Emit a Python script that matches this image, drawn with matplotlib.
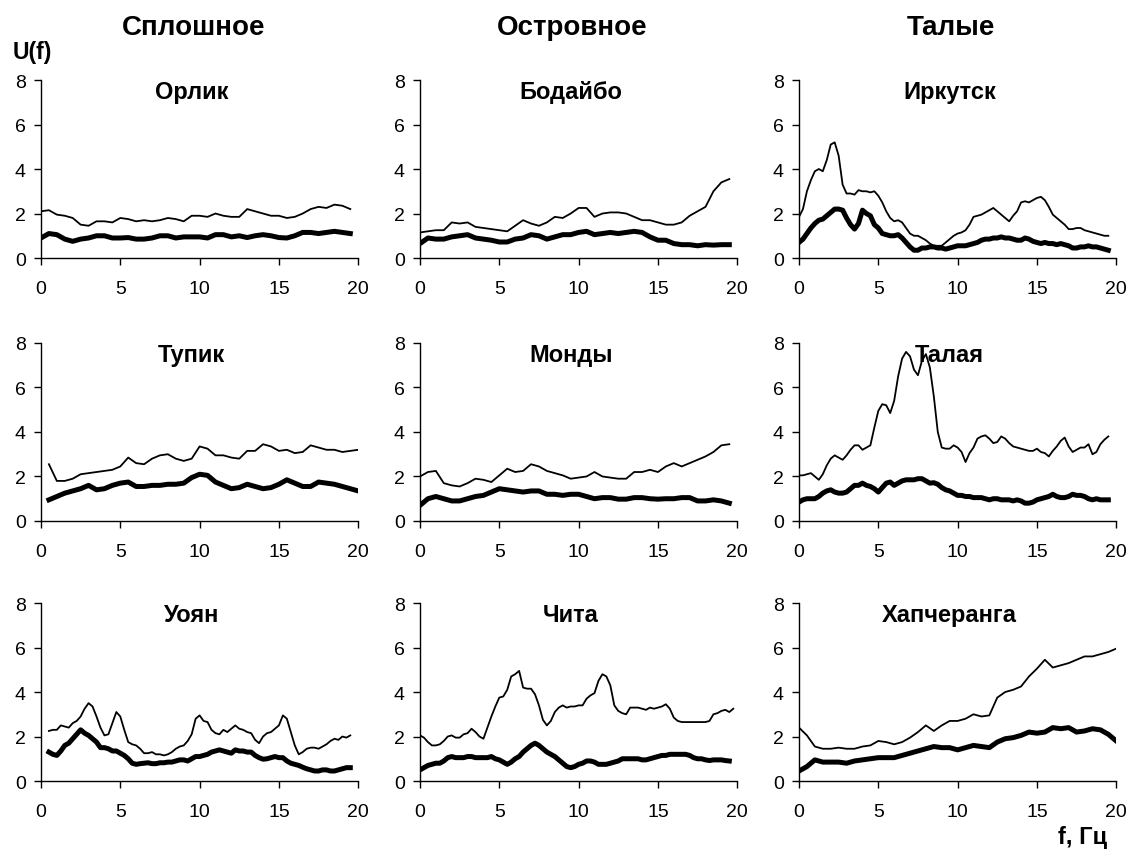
# -*- coding: utf-8 -*-
import matplotlib

matplotlib.use('Agg')
import matplotlib.pyplot as plt
import numpy

plt.rcParams['font.family'] = ['Liberation Sans', 'DejaVu Sans']

# ---- data: U(f), thin = upper curve, thick = lower curve ----

# Орлик (0.5 Hz step)
orlikF = numpy.arange(0, 20, 0.5)
orlikThin = [2.1, 2.15, 1.95, 1.9, 1.8, 1.5, 1.45, 1.65, 1.65, 1.6,
             1.8, 1.75, 1.65, 1.7, 1.65, 1.7, 1.8, 1.75, 1.65, 1.9,
             1.9, 1.85, 2.0, 1.9, 1.85, 1.85, 2.2, 2.1, 2.0, 1.9,
             1.9, 1.8, 1.85, 2.0, 2.2, 2.3, 2.25, 2.4, 2.35, 2.2]
orlikThick = [0.9, 1.1, 1.05, 0.85, 0.75, 0.85, 0.9, 1.0, 1.0, 0.9,
              0.9, 0.92, 0.85, 0.85, 0.9, 1.0, 1.0, 0.9, 0.95, 0.95,
              0.95, 0.9, 1.05, 1.05, 0.95, 1.0, 0.92, 1.0, 1.05, 1.0,
              0.92, 0.9, 1.0, 1.15, 1.15, 1.1, 1.15, 1.2, 1.15, 1.1]

# Бодайбо
bodaiboF = numpy.arange(0, 20, 0.5)
bodaiboThin = [1.15, 1.2, 1.25, 1.25, 1.6, 1.55, 1.6, 1.4, 1.35, 1.3,
               1.25, 1.2, 1.45, 1.7, 1.55, 1.45, 1.6, 1.85, 1.8, 2.0,
               2.25, 2.25, 1.85, 2.0, 2.05, 2.05, 2.0, 1.85, 1.7, 1.7,
               1.6, 1.5, 1.5, 1.6, 1.9, 2.1, 2.3, 3.0, 3.4, 3.55]
bodaiboThick = [0.65, 0.9, 0.85, 0.85, 0.95, 1.0, 1.05, 0.9, 0.85, 0.8,
                0.72, 0.72, 0.85, 0.9, 1.05, 1.0, 0.85, 0.95, 1.05, 1.05,
                1.15, 1.2, 1.05, 1.1, 1.15, 1.1, 1.15, 1.2, 1.15, 0.95,
                0.8, 0.8, 0.65, 0.6, 0.6, 0.55, 0.6, 0.58, 0.6, 0.6]

# Иркутск (0.25 Hz step)
irkutskF = numpy.arange(0, 19.75, 0.25)
irkutskThin = [1.85, 2.2, 3.0, 3.5,
               3.9, 4.0, 3.9, 4.4,
               5.1, 5.2, 4.6, 3.3,
               2.9, 2.9, 2.85, 3.05,
               3.0, 3.0, 2.95, 3.0,
               2.8, 2.5, 2.1, 1.8,
               1.65, 1.7, 1.6, 1.35,
               1.1, 1.0, 1.0, 0.9,
               0.8, 0.65, 0.55, 0.55,
               0.55, 0.7, 0.85, 1.0,
               1.1, 1.15, 1.25, 1.5,
               1.85, 1.9, 1.95, 2.05,
               2.15, 2.25, 2.1, 1.95,
               1.8, 1.65, 1.9, 2.1,
               2.5, 2.55, 2.5, 2.6,
               2.7, 2.75, 2.6, 2.3,
               1.95, 1.8, 1.65, 1.5,
               1.3, 1.3, 1.35, 1.35,
               1.25, 1.2, 1.15, 1.1,
               1.05, 1.0, 1.0]
irkutskThick = [0.7, 0.85, 1.1, 1.35,
                1.55, 1.7, 1.75, 1.9,
                2.05, 2.2, 2.2, 2.15,
                1.8, 1.5, 1.3, 1.55,
                2.15, 2.0, 1.9, 1.5,
                1.35, 1.1, 1.05, 1.0,
                1.0, 1.05, 0.9, 0.7,
                0.5, 0.35, 0.35, 0.45,
                0.45, 0.5, 0.5, 0.45,
                0.45, 0.4, 0.45, 0.5,
                0.55, 0.55, 0.55, 0.6,
                0.65, 0.7, 0.8, 0.85,
                0.85, 0.9, 0.9, 0.95,
                0.9, 0.9, 0.85, 0.8,
                0.8, 0.9, 0.85, 0.75,
                0.7, 0.65, 0.7, 0.65,
                0.65, 0.6, 0.65, 0.6,
                0.55, 0.45, 0.45, 0.5,
                0.5, 0.55, 0.5, 0.5,
                0.45, 0.4, 0.35]

# Тупик
tupikF = numpy.arange(0.5, 20.5, 0.5)
tupikThin = [2.55, 1.8, 1.8, 1.9, 2.1, 2.15, 2.2, 2.25, 2.3, 2.45,
             2.85, 2.6, 2.55, 2.8, 2.95, 3.0, 2.8, 2.7, 2.8, 3.35,
             3.25, 2.95, 2.95, 2.85, 2.8, 3.15, 3.15, 3.45, 3.35, 3.15,
             3.2, 3.05, 3.1, 3.4, 3.3, 3.2, 3.2, 3.1, 3.15, 3.2]
tupikThick = [0.95, 1.1, 1.25, 1.35, 1.45, 1.6, 1.4, 1.45, 1.6, 1.7,
              1.75, 1.55, 1.55, 1.6, 1.6, 1.65, 1.65, 1.7, 1.95, 2.1,
              2.05, 1.75, 1.6, 1.45, 1.5, 1.65, 1.55, 1.45, 1.5, 1.65,
              1.85, 1.7, 1.55, 1.55, 1.75, 1.7, 1.65, 1.55, 1.45, 1.35]

# Монды
mondyF = numpy.arange(0, 20, 0.5)
mondyThin = [2.0, 2.2, 2.25, 1.7, 1.6, 1.55, 1.7, 1.9, 1.85, 1.75,
             2.05, 2.35, 2.2, 2.25, 2.55, 2.45, 2.25, 2.15, 2.05, 1.9,
             1.95, 2.0, 2.2, 2.0, 1.95, 1.9, 1.9, 2.2, 2.2, 2.3,
             2.2, 2.45, 2.6, 2.45, 2.6, 2.75, 2.9, 3.1, 3.4, 3.45]
mondyThick = [0.7, 1.0, 1.1, 1.0, 0.9, 0.9, 1.0, 1.1, 1.15, 1.3,
              1.45, 1.4, 1.35, 1.3, 1.35, 1.35, 1.2, 1.2, 1.15, 1.2,
              1.2, 1.1, 1.0, 1.05, 1.05, 0.98, 0.98, 1.05, 1.05, 1.0,
              0.98, 1.0, 1.0, 1.05, 1.05, 0.9, 0.9, 0.95, 0.9, 0.8]

# Талая (0.25 Hz step)
talayaF = numpy.arange(0, 19.75, 0.25)
talayaThin = [2.05, 2.05, 2.1, 2.15,
              2.0, 1.85, 2.1, 2.5,
              2.8, 2.95, 2.85, 2.75,
              2.95, 3.2, 3.4, 3.4,
              3.2, 3.3, 3.4, 4.2,
              4.95, 5.25, 5.2, 4.85,
              5.4, 6.5, 7.3, 7.6,
              7.4, 6.8, 6.55, 7.2,
              7.5, 6.9, 5.6, 4.0,
              3.3, 3.25, 3.25, 3.4,
              3.3, 3.1, 2.65, 3.05,
              3.3, 3.7, 3.8, 3.85,
              3.7, 3.5, 3.55, 3.8,
              3.7, 3.5, 3.35, 3.3,
              3.25, 3.2, 3.15, 3.15,
              3.25, 3.1, 3.05, 2.9,
              3.15, 3.35, 3.6, 3.75,
              3.35, 3.1, 3.2, 3.3,
              3.3, 3.45, 3.0, 3.1,
              3.45, 3.65, 3.8]
talayaThick = [0.85, 0.95, 1.0, 1.0,
               1.0, 1.1, 1.25, 1.35,
               1.4, 1.3, 1.25, 1.25,
               1.3, 1.45, 1.6, 1.6,
               1.7, 1.6, 1.55, 1.45,
               1.3, 1.5, 1.7, 1.75,
               1.6, 1.7, 1.8, 1.85,
               1.85, 1.85, 1.9, 1.9,
               1.8, 1.7, 1.72, 1.65,
               1.5, 1.4, 1.35, 1.25,
               1.15, 1.15, 1.1, 1.1,
               1.05, 1.05, 1.05, 1.0,
               0.95, 1.0, 1.0, 0.95,
               0.95, 0.95, 0.9, 0.95,
               0.9, 0.8, 0.8, 0.85,
               0.95, 1.0, 1.05, 1.1,
               1.2, 1.1, 1.05, 1.05,
               1.1, 1.2, 1.15, 1.15,
               1.1, 1.0, 0.95, 1.0,
               0.95, 0.95, 0.95]

# Уоян (0.25 Hz step, from 0.5 Hz)
uoyanF = numpy.arange(0.5, 19.75, 0.25)
uoyanThin = [2.25, 2.3,
             2.3, 2.5, 2.45, 2.4,
             2.6, 2.7, 2.9, 3.25,
             3.5, 3.35, 2.9, 2.4,
             2.05, 2.1, 2.6, 3.1,
             2.9, 2.3, 1.75, 1.65,
             1.6, 1.45, 1.25, 1.25,
             1.3, 1.2, 1.2, 1.15,
             1.2, 1.3, 1.45, 1.55,
             1.6, 1.8, 2.1, 2.8,
             2.95, 2.7, 2.65, 2.3,
             2.15, 2.1, 2.3, 2.2,
             2.35, 2.5, 2.35, 2.3,
             2.2, 2.15, 1.85, 1.7,
             2.0, 2.15, 2.2, 2.35,
             2.5, 2.95, 2.8, 2.2,
             1.6, 1.2, 1.3, 1.45,
             1.5, 1.5, 1.45, 1.55,
             1.65, 1.8, 1.9, 1.85,
             2.0, 1.95, 2.05]
uoyanThick = [1.3, 1.2,
              1.15, 1.35, 1.6, 1.7,
              1.9, 2.1, 2.3, 2.15,
              2.05, 1.9, 1.75, 1.5,
              1.5, 1.45, 1.35, 1.35,
              1.25, 1.15, 1.0, 0.8,
              0.75, 0.78, 0.8, 0.82,
              0.78, 0.78, 0.82, 0.82,
              0.85, 0.85, 0.9, 0.95,
              0.95, 0.9, 1.0, 1.1,
              1.1, 1.15, 1.2, 1.3,
              1.35, 1.4, 1.35, 1.3,
              1.25, 1.4, 1.35, 1.35,
              1.3, 1.3, 1.15, 1.05,
              0.98, 1.0, 1.05, 1.1,
              1.05, 1.05, 0.9, 0.8,
              0.75, 0.7, 0.62, 0.55,
              0.5, 0.45, 0.45, 0.5,
              0.5, 0.45, 0.45, 0.5,
              0.55, 0.6, 0.6]

# Чита (0.25 Hz step, thin curve runs a bit further)
chitaThinF = numpy.arange(0, 20, 0.25)
chitaThin = [2.05, 1.95, 1.75, 1.6,
             1.6, 1.65, 1.8, 2.0,
             2.05, 1.95, 1.95, 2.1,
             2.15, 2.35, 2.2, 2.0,
             1.9, 2.4, 2.9, 3.35,
             3.75, 3.8, 4.1, 4.7,
             4.8, 4.95, 4.2, 4.15,
             4.15, 3.9, 3.4, 2.75,
             2.5, 2.7, 3.1, 3.3,
             3.4, 3.3, 3.35, 3.35,
             3.4, 3.4, 3.7, 3.85,
             3.95, 4.5, 4.8, 4.7,
             4.3, 3.4, 3.15, 3.05,
             3.0, 3.3, 3.3, 3.3,
             3.25, 3.2, 3.3, 3.25,
             3.3, 3.35, 3.45, 3.25,
             2.85, 2.7, 2.65, 2.65,
             2.65, 2.65, 2.65, 2.65,
             2.65, 2.7, 3.0, 3.05,
             3.15, 3.2, 3.1, 3.25]
chitaThickF = numpy.arange(0, 19.75, 0.25)
chitaThick = [0.5, 0.6, 0.7, 0.75,
              0.8, 0.8, 0.9, 1.05,
              1.1, 1.05, 1.05, 1.05,
              1.1, 1.1, 1.05, 1.05,
              1.05, 1.05, 1.1, 1.0,
              0.95, 0.85, 0.75, 0.85,
              1.0, 1.1, 1.3, 1.45,
              1.6, 1.7, 1.6, 1.45,
              1.3, 1.2, 1.1, 0.95,
              0.8, 0.65, 0.6, 0.65,
              0.75, 0.8, 0.9, 0.9,
              0.85, 0.75, 0.75, 0.75,
              0.8, 0.85, 0.9, 1.0,
              1.0, 1.0, 1.0, 1.0,
              0.95, 0.95, 1.0, 1.05,
              1.1, 1.15, 1.15, 1.2,
              1.2, 1.2, 1.2, 1.2,
              1.15, 1.05, 1.0, 1.0,
              0.95, 0.92, 0.95, 0.95,
              0.95, 0.92, 0.9]

# Хапчеранга
khapcherangaF = numpy.arange(0, 20.5, 0.5)
khapcherangaThin = [2.4, 2.05, 1.55, 1.45, 1.45, 1.5, 1.45, 1.45, 1.55, 1.6,
                    1.8, 1.75, 1.65, 1.75, 1.95, 2.2, 2.5, 2.25, 2.5, 2.7,
                    2.7, 2.8, 3.0, 2.9, 2.95, 3.75, 4.0, 4.1, 4.25, 4.7,
                    5.05, 5.45, 5.1, 5.2, 5.3, 5.45, 5.6, 5.6, 5.7, 5.8,
                    5.95]
khapcherangaThick = [0.45, 0.65, 0.95, 0.85, 0.85, 0.85, 0.8, 0.9, 0.95, 1.0,
                     1.05, 1.05, 1.05, 1.15, 1.25, 1.35, 1.45, 1.55, 1.5, 1.5,
                     1.4, 1.5, 1.6, 1.55, 1.5, 1.75, 1.9, 1.95, 2.05, 2.2,
                     2.15, 2.2, 2.4, 2.35, 2.4, 2.2, 2.25, 2.35, 2.3, 2.1,
                     1.8]

columnTitles = ['Сплошное', 'Островное', 'Талые']

# row by row: (title, thin f, thin values, thick f, thick values)
panels = [
    ('Орлик', orlikF, orlikThin, orlikF, orlikThick),
    ('Бодайбо', bodaiboF, bodaiboThin, bodaiboF, bodaiboThick),
    ('Иркутск', irkutskF, irkutskThin, irkutskF, irkutskThick),
    ('Тупик', tupikF, tupikThin, tupikF, tupikThick),
    ('Монды', mondyF, mondyThin, mondyF, mondyThick),
    ('Талая', talayaF, talayaThin, talayaF, talayaThick),
    ('Уоян', uoyanF, uoyanThin, uoyanF, uoyanThick),
    ('Чита', chitaThinF, chitaThin, chitaThickF, chitaThick),
    ('Хапчеранга', khapcherangaF, khapcherangaThin, khapcherangaF, khapcherangaThick),
]

fig = plt.figure(figsize=(11.29, 8.54), dpi=100)

lefts = [0.0363, 0.372, 0.7077]
bottoms = [0.6967, 0.3888, 0.0843]
width = 0.281
height = 0.2084

for i in range(len(panels)):
    title, fThin, thin, fThick, thick = panels[i]
    ax = fig.add_axes([lefts[i % 3], bottoms[i // 3], width, height])

    ax.plot(fThin, thin, color='black', linewidth=1.3)
    ax.plot(fThick, thick, color='black', linewidth=3.6, solid_joinstyle='round')

    ax.set_xlim(0, 20)
    ax.set_ylim(0, 8)
    ax.set_xticks(numpy.arange(0, 21, 5))
    ax.set_yticks(numpy.arange(0, 9, 2))
    ax.spines['top'].set_visible(False)
    ax.spines['right'].set_visible(False)
    ax.spines['left'].set_linewidth(1.0)
    ax.spines['bottom'].set_linewidth(1.0)
    ax.tick_params(axis='x', direction='out', length=5, width=1.0, pad=11, labelsize=14)
    ax.tick_params(axis='y', direction='out', length=5, width=1.0, pad=6, labelsize=14)

    ax.text(0.475, 0.935, title, transform=ax.transAxes, ha='center', va='center',
            fontsize=17, fontweight='bold')

# column headers
for c in range(3):
    fig.text(lefts[c] + width * 0.48, 1 - 28 / 854.0, columnTitles[c], ha='center', va='center',
             fontsize=20, fontweight='bold')

fig.text(13 / 1129.0, 1 - 52 / 854.0, 'U(f)', ha='left', va='center', fontsize=16.5, fontweight='bold')
fig.text(1107 / 1129.0, 1 - 838 / 854.0, 'f, Гц', ha='right', va='center', fontsize=17, fontweight='bold')

plt.savefig('out.png', dpi=100)
